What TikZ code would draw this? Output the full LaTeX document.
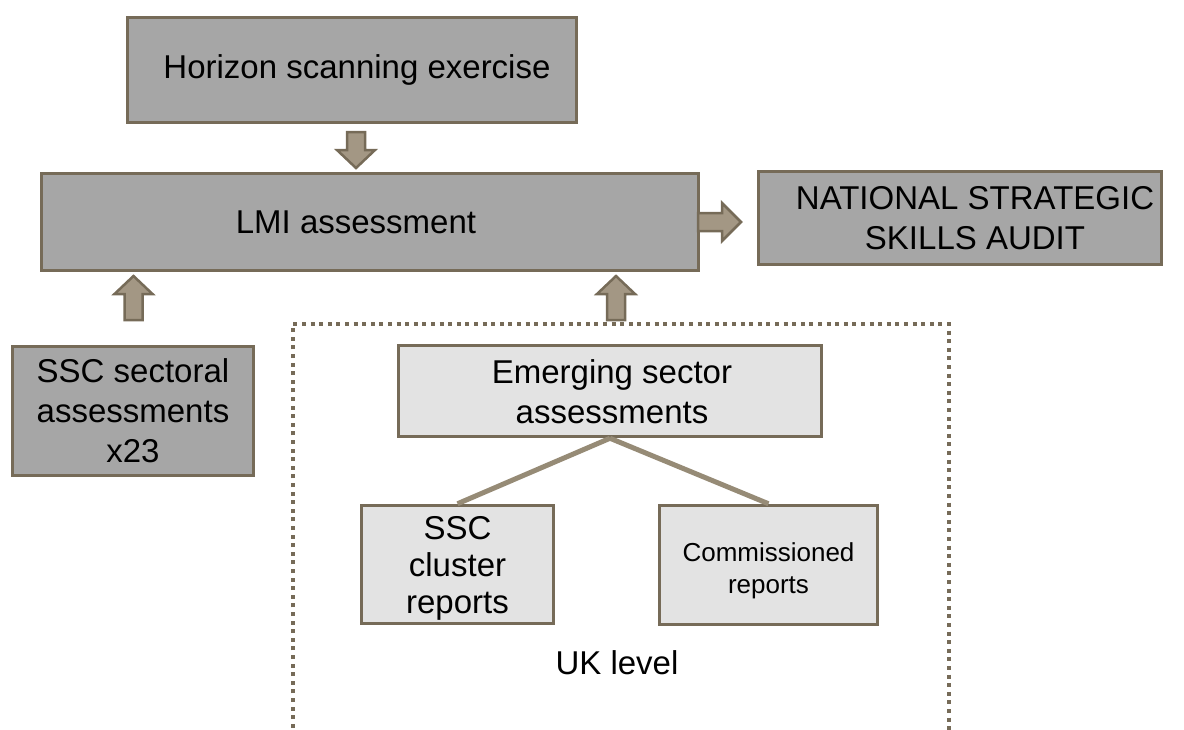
\documentclass[tikz,border=0pt]{standalone}
\usepackage{fontspec}
\setmainfont{Liberation Sans}
\definecolor{bordc}{HTML}{766B58}
\definecolor{arrfill}{HTML}{A39784}
\definecolor{linec}{HTML}{968B76}
\definecolor{darkfill}{HTML}{A6A6A6}
\definecolor{lightfill}{HTML}{E3E3E3}
\tikzset{
  box/.style={draw=bordc, line width=3.5pt, inner sep=0pt, align=center, font=\fontsize{33}{40}\selectfont},
  darkbox/.style={box, fill=darkfill},
  lightbox/.style={box, fill=lightfill},
  barrow/.style={draw=bordc, fill=arrfill, line width=2.5pt, line join=miter},
  branch/.style={draw=linec, line width=5pt},
  ukframe/.style={draw=bordc, line width=4pt, dash pattern=on 4pt off 4.6pt}
}
\begin{document}
\begin{tikzpicture}[x=1pt,y=-1pt]
\useasboundingbox (0,0) rectangle (1184,729);
\node[darkbox, minimum width=449pt, minimum height=105pt] (horizon) at (352,70) {\hspace*{10pt}Horizon scanning exercise};
\node[darkbox, minimum width=657pt, minimum height=97pt] (lmi) at (370,222) {\hspace*{-28pt}LMI assessment};
\node[darkbox, minimum width=403pt, minimum height=93pt] (nsa) at (960,218) {\hspace*{30pt}\raisebox{-3pt}[\height][\depth]{\begin{tabular}{@{}c@{}}NATIONAL STRATEGIC\\SKILLS AUDIT\end{tabular}}};
\node[darkbox, minimum width=241pt, minimum height=129pt] (ssc) at (133,411) {SSC sectoral\\assessments\\x23};
\node[lightbox, minimum width=423pt, minimum height=91pt] (emerg) at (610,391) {\hspace*{4pt}\raisebox{-4pt}[\height][\depth]{\begin{tabular}{@{}c@{}}Emerging sector\\assessments\end{tabular}}};
\node[lightbox, minimum width=192pt, minimum height=118pt] (cluster) at (457.5,564.5) {\raisebox{-5pt}[\height][\depth]{\fontsize{33}{37}\selectfont\begin{tabular}{@{}c@{}}SSC\\cluster\\reports\end{tabular}}};
\node[lightbox, minimum width=218pt, minimum height=119pt, font=\fontsize{26}{32}\selectfont] (comm) at (768.5,565) {\raisebox{-6pt}[\height][\depth]{\begin{tabular}{@{}c@{}}Commissioned\\reports\end{tabular}}};
\node[font=\fontsize{33}{40}\selectfont] (uk) at (617,663) {UK level};
% dotted frame
\coordinate (fa) at (293,745);
\coordinate (fb) at (949,745);
\draw[ukframe] (fa) |- (621,324) -| (fb);
% branches
\draw[branch] (emerg.south) -- (cluster.north);
\draw[branch] (emerg.south) -- (comm.north);
% block arrows
\draw[barrow, shift={(356,150)}] (-9,-18) -- (9,-18) -- (9,0) -- (19,0) -- (0,18) -- (-19,0) -- (-9,0) -- cycle;
\draw[barrow, shift={(720,222)}] (-22,-9) -- (2,-9) -- (2,-19) -- (21,0) -- (2,19) -- (2,9) -- (-22,9) -- cycle;
\draw[barrow, shift={(133.5,300)}] (-9,20) -- (9,20) -- (9,-6) -- (19,-6) -- (0,-24) -- (-19,-6) -- (-9,-6) -- cycle;
\draw[barrow, shift={(616,300)}] (-9,20) -- (9,20) -- (9,-6) -- (19,-6) -- (0,-24) -- (-19,-6) -- (-9,-6) -- cycle;
\end{tikzpicture}
\end{document}
